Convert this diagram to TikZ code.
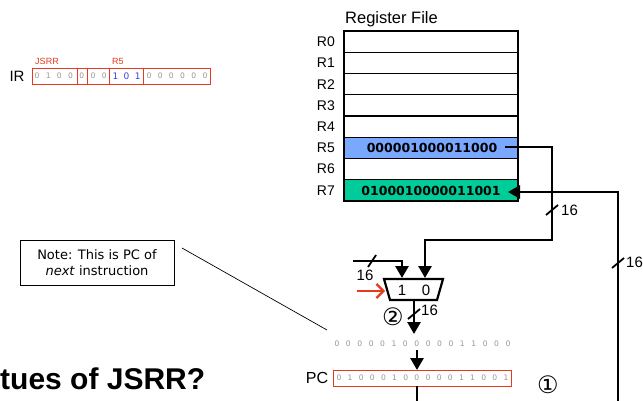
\documentclass[tikz,border=0pt]{standalone}
\usepackage{fontspec}
\setmainfont{Liberation Sans}
\newfontfamily\dv{DejaVu Sans}
\usetikzlibrary{arrows.meta}
\definecolor{bitgray}{RGB}{150,150,150}
\definecolor{irred}{RGB}{232,57,29}
\definecolor{irblue}{RGB}{51,68,221}
\definecolor{rfive}{RGB}{122,168,255}
\definecolor{rseven}{RGB}{0,204,153}
\tikzset{
  wire/.style={line width=2.8pt},
  bigtip/.style={-{Triangle[width=13pt,length=12pt]}},
  slash/.style={line width=1.8pt},
  buslbl/.style={font=\fontsize{15}{15}\selectfont, inner sep=0pt},
  reglbl/.style={font=\fontsize{14}{14}\selectfont, anchor=east, inner sep=0pt},
  regval/.style={font=\dv\bfseries\fontsize{12.5}{13}\selectfont, inner sep=0pt},
  bit/.style={font=\dv\fontsize{7.6}{8}\selectfont, text=bitgray, inner sep=0pt},
  irbox/.style={draw=irred, line width=0.9pt},
  circnum/.style={font=\dv\fontsize{24}{24}\selectfont, inner sep=0pt},
}
\begin{document}
\begin{tikzpicture}[x=1pt,y=-1pt]
\useasboundingbox (0,0) rectangle (643,401);

% ---------------- IR -----------------
\node[font=\fontsize{15}{15}\selectfont, inner sep=0pt] (irlbl) at (17,76) {IR};
\node[font=\fontsize{9}{9}\selectfont, text=irred, inner sep=0pt] (opc) at (47,61) {JSRR};
\node[font=\fontsize{9}{9}\selectfont, text=irred, inner sep=0pt] (baser) at (118,61) {R5};
\draw[irbox] (32,68) rectangle (77,84);
\draw[irbox] (77,68) rectangle (87,84);
\draw[irbox] (87,68) rectangle (109,84);
\draw[irbox] (109,68) rectangle (143,84);
\draw[irbox] (143,68) rectangle (210,84);
\foreach \b [count=\i from 0] in {0,1,0,0,0,0,0,1,0,1,0,0,0,0,0,0} {
  \pgfmathsetmacro{\bx}{37+11.2*\i}
  \ifnum\i>6 \ifnum\i<10
    \node[bit, text=irblue, font=\dv\fontsize{9}{9}\selectfont] (ir\i) at (\bx,76) {\b};
  \else
    \node[bit] (ir\i) at (\bx,76) {\b};
  \fi\else
    \node[bit] (ir\i) at (\bx,76) {\b};
  \fi
}

% ---------------- Register file -----------------
\node[font=\fontsize{16.5}{16.5}\selectfont, inner sep=0pt, anchor=west] (rftitle) at (345,19) {Register File};
\fill[rfive] (344,137.25) rectangle (518,158.5);
\fill[rseven] (344,179.75) rectangle (518,201);
\foreach \k in {1,...,7} {
  \draw[line width=1.3pt] (344,{31+21.25*\k}) -- (518,{31+21.25*\k});
}
\draw[line width=2.6pt] (344,31) rectangle (518,201);
\foreach \k in {0,...,7} {
  \node[reglbl] (rl\k) at (335,{31+21.25*(\k+0.5)}) {R\k};
}
\node[regval] (r5val) at (432,148) {000001000011000};
\node[regval] (r7val) at (431,190.5) {0100010000011001};

% ---------------- connections -----------------
\coordinate (r5out) at (505,147);
\coordinate (r7in) at (508,192);
\coordinate (bendA) at (552,240);
\coordinate (m0) at (425,278);
\coordinate (m1) at (402,278);
\coordinate (in1) at (353,261);
\coordinate (fbtop) at (618,192);
\coordinate (fbbot) at (618,402);

% mux
\draw[line width=2.2pt, fill=white] (384,279) coordinate (mtl) -- (443,279) -- (437,300) coordinate (mbr) -- (390,300) coordinate (mbl) -- cycle;
\node[font=\fontsize{15}{15}\selectfont, inner sep=0pt] (mux1) at (402,290) {1};
\node[font=\fontsize{15}{15}\selectfont, inner sep=0pt] (mux0) at (426,290) {0};

\draw[wire, bigtip] (r5out) -| (bendA) -| (m0);
\draw[wire, bigtip] (in1) -| (m1);
\draw[wire, bigtip] (fbbot) -- (fbtop) -- (r7in);

% red select arrow
\coordinate (selfrom) at (357,291);
\coordinate (selto) at (385,291);
\draw[irred, line width=2.2pt, -{Straight Barb[length=7pt,width=14pt]}] (selfrom) -- (selto);

% slashes and widths
\draw[slash] (546,215) -- (558,205);
\node[buslbl, anchor=west] (w1) at (561,210) {16};
\draw[slash] (368,267) -- (376,255);
\node[buslbl] (w2) at (365,275) {16};
\draw[slash] (612,268) -- (624,258);
\node[buslbl, anchor=west] (w3) at (626,262) {16};

% mux output to gray value
\coordinate (mout) at (414,300);
\coordinate (gtop) at (414,334);
\draw[wire, bigtip] (mout) -- (gtop);
\draw[slash] (408,319) -- (420,309);
\node[buslbl, anchor=west] (w4) at (421,310) {16};
\node[circnum] (c2) at (393,317) {②};

% value to be loaded into PC
\foreach \b [count=\i from 0] in {0,0,0,0,0,1,0,0,0,0,0,1,1,0,0,0} {
  \node[bit] (nv\i) at ({337+11.4*\i},344) {\b};
}
\coordinate (ntop) at (417,350);
\coordinate (pctop) at (417,370);
\draw[wire, bigtip] (ntop) -- (pctop);

% PC
\node[font=\fontsize{16}{16}\selectfont, inner sep=0pt] (pclbl) at (317,378) {PC};
\draw[irbox] (333,370) rectangle (511,386);
\foreach \b [count=\i from 0] in {0,1,0,0,0,1,0,0,0,0,0,1,1,0,0,1} {
  \node[bit] (pc\i) at ({339+11.13*\i},378) {\b};
}
\coordinate (pcbot) at (417,386);
\coordinate (pcdown) at (417,402);
\draw[wire] (pcbot) -- (pcdown);
\node[circnum] (c1) at (548,385) {①};

% note
\node[draw, line width=0.8pt, minimum width=154pt, minimum height=45pt, align=center,
      font=\dv\fontsize{13}{16}\selectfont, inner sep=0pt] (note) at (97,262.5)
      {Note: This is PC of\\\textit{next} instruction};
\coordinate (notetip) at (327,330);
\draw[line width=0.7pt] (182,248) -- (notetip);

% heading fragment
\node[font=\bfseries\fontsize{30}{30}\selectfont, anchor=base west, inner sep=0pt] (head) at (0,389) {tues of JSRR?};
\end{tikzpicture}
\end{document}
